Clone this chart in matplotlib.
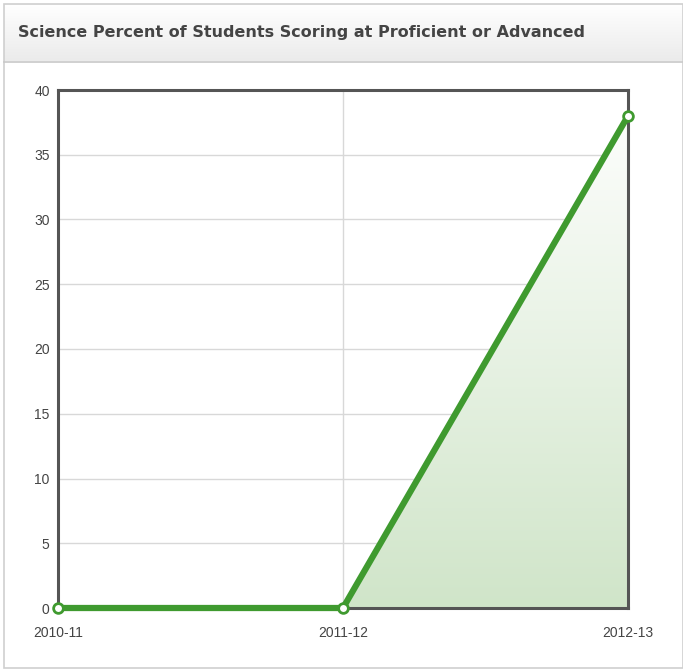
import numpy as np
import matplotlib.pyplot as plt
from matplotlib.patches import Rectangle, Polygon
from matplotlib.colors import LinearSegmentedColormap

# data
years = ['2010-11', '2011-12', '2012-13']
pct = [0, 0, 38]
y_ticks = [0, 5, 10, 15, 20, 25, 30, 35, 40]

W, H = 683, 672
fig = plt.figure(figsize=(W / 100, H / 100), dpi=100)
fig.patch.set_facecolor('white')

# panel frame and header
bg = fig.add_axes([0, 0, 1, 1])
bg.set_xlim(0, W)
bg.set_ylim(H, 0)
bg.axis('off')
hdr = np.linspace(0, 1, 60).reshape(-1, 1)
hcm = LinearSegmentedColormap.from_list('h', ['#ffffff', '#ebebeb'])
bg.imshow(hdr, cmap=hcm, extent=[4, W - 1, 61, 4], aspect='auto', zorder=1)
bg.add_patch(Rectangle((3.5, 3.5), W - 4, H - 8, fc='none', ec='#cfcfcf', lw=1.2, zorder=2))
bg.plot([4, W - 1], [61.5, 61.5], color='#c8c8c8', lw=1.2, zorder=2)
bg.text(18, 33, 'Science Percent of Students Scoring at Proficient or Advanced',
        fontsize=11.5, fontweight='bold', color='#444444', va='center',
        family=['DejaVu Sans'], zorder=3)

# plot area
x0, x1, ytop, ybot = 58, 628, 90, 608
ax = fig.add_axes([x0 / W, 1 - ybot / H, (x1 - x0) / W, (ybot - ytop) / H])
xs = np.arange(len(years))
ax.set_xlim(0, len(years) - 1)
ax.set_ylim(0, 40)

for t in y_ticks[1:-1]:
    ax.axhline(t, color='#d8d8d8', lw=1, zorder=1)
for i in xs[1:-1]:
    ax.axvline(i, color='#d8d8d8', lw=1, zorder=1)

# gradient fill under the line
grad = np.linspace(0, 1, 256).reshape(-1, 1)
cm = LinearSegmentedColormap.from_list('g', ['#d0e5c9', '#ffffff'])
poly = Polygon(list(zip(xs, pct)) + [(xs[-1], 0), (xs[0], 0)], closed=True,
               fc='none', ec='none', transform=ax.transData)
ax.add_patch(poly)
im = ax.imshow(grad, cmap=cm, extent=[0, len(years) - 1, 0, 40], origin='lower',
               aspect='auto', zorder=2)
im.set_clip_path(poly)

ax.plot(xs, pct, color='#3f9a2f', lw=4.5, zorder=4, solid_capstyle='round',
        solid_joinstyle='round', clip_on=False)
ax.plot(xs, pct, 'o', ms=7, mfc='white', mec='#3f9a2f', mew=2, zorder=5, clip_on=False)

for s in ax.spines.values():
    s.set_color('#555555')
    s.set_linewidth(2.2)
    s.set_zorder(3)

ax.set_yticks(y_ticks)
ax.set_xticks(xs)
ax.set_xticklabels(years)
ax.tick_params(length=0, labelsize=10, labelcolor='#444444')
ax.tick_params(axis='x', pad=13)
ax.tick_params(axis='y', pad=6)
for lab in ax.get_xticklabels() + ax.get_yticklabels():
    lab.set_family(['Liberation Sans Narrow', 'Liberation Sans'])

fig.savefig('out.png', dpi=100)
